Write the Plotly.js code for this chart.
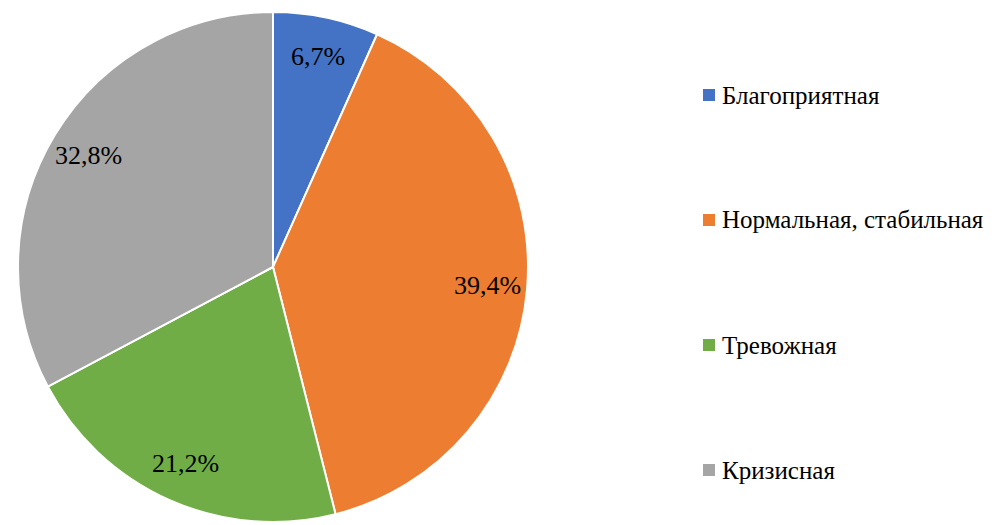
<!DOCTYPE html>
<html>
<head>
<meta charset="utf-8">
<script src="https://cdn.plot.ly/plotly-3.0.1.min.js"></script>
<style>html,body{margin:0;padding:0;background:#fff;}#chart{width:1002px;height:525px;}</style>
</head>
<body>
<div id="chart"></div>
<script>
var categories = ["Благоприятная", "Нормальная, стабильная", "Тревожная", "Кризисная"];
var values = [6.7, 39.4, 21.2, 32.8];
var colors = ["#4472C4", "#ED7D31", "#70AD47", "#A5A5A5"];

var W = 1002, H = 525;
var CX = 273, CY = 267, R = 255; // pixels from top-left
var FONT = "Liberation Serif";

var domX = [(CX - R) / W, (CX + R) / W];
var domY = [(H - CY - R) / H, (H - CY + R) / H];

var total = values.reduce(function (a, b) { return a + b; }, 0);
var annotations = [];
var shapes = [];
var cum = 0;
values.forEach(function (v, i) {
  var mid = (cum + v / 2) / total * 2 * Math.PI;
  cum += v;
  var f = 0.845;
  var px = CX + R * f * Math.sin(mid);
  var py = CY - R * f * Math.cos(mid);
  annotations.push({
    xref: "paper", yref: "paper",
    x: px / W, y: (H - py) / H,
    text: v.toFixed(1).replace(".", ",") + "%",
    showarrow: false,
    font: {family: FONT, size: 26, color: "#000000"},
    xanchor: "center", yanchor: "middle"
  });
});

var legendY = [95, 220, 345, 470];
var legendX = 703, sq = 12;
categories.forEach(function (c, i) {
  var y = legendY[i];
  shapes.push({
    type: "rect", xref: "paper", yref: "paper",
    x0: legendX / W, x1: (legendX + sq) / W,
    y0: (H - y - sq / 2) / H, y1: (H - y + sq / 2) / H,
    fillcolor: colors[i], line: {width: 0}
  });
  annotations.push({
    xref: "paper", yref: "paper",
    x: (legendX + sq + 5) / W, y: (H - y) / H,
    text: c, showarrow: false,
    font: {family: FONT, size: 25, color: "#000000"},
    xanchor: "left", yanchor: "middle"
  });
});

var data = [{
  type: "pie",
  labels: categories,
  values: values,
  marker: {colors: colors, line: {color: "#ffffff", width: 2}},
  sort: false,
  direction: "clockwise",
  rotation: 0,
  textinfo: "none",
  hoverinfo: "label+percent",
  domain: {x: domX, y: domY}
}];

var layout = {
  width: W, height: H,
  margin: {l: 0, r: 0, t: 0, b: 0},
  showlegend: false,
  paper_bgcolor: "#ffffff",
  annotations: annotations,
  shapes: shapes
};

Plotly.newPlot("chart", data, layout, {displayModeBar: false, staticPlot: true});
</script>
</body>
</html>
